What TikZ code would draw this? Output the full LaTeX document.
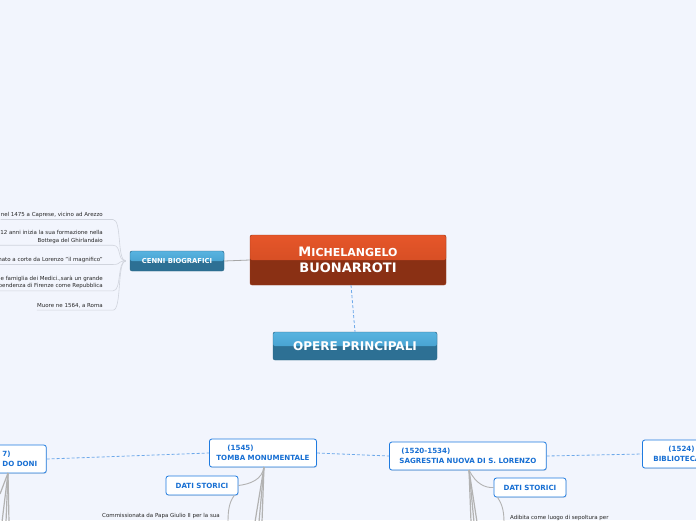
\documentclass[tikz,border=0pt]{standalone}
\usepackage{fontspec}
\setmainfont{DejaVu Sans}
\usetikzlibrary{shadows}
\definecolor{bgblue}{HTML}{F2F5FD}
\definecolor{maintop}{HTML}{E6562A}
\definecolor{mainmid}{HTML}{C9481F}
\definecolor{mainlow}{HTML}{8A3014}
\definecolor{mainedge}{HTML}{9C3A1A}
\definecolor{bluetop}{HTML}{58B3E0}
\definecolor{bluemid}{HTML}{3A95C4}
\definecolor{bluelow}{HTML}{2D7094}
\definecolor{blueedge}{HTML}{2A6584}
\definecolor{nodeblue}{HTML}{1F7BE0}
\definecolor{textblue}{HTML}{176FD3}
\definecolor{dashblue}{HTML}{6EA9EA}
\definecolor{branchgray}{HTML}{B2B2B2}
\definecolor{leafgray}{HTML}{D0D4DD}
\tikzset{
  mainbox/.style={draw=mainedge, fill=mainlow, rounded corners=2pt,
    minimum width=196pt, minimum height=50pt, inner sep=0pt, text=white, align=center,
    font=\bfseries\fontsize{13}{16}\selectfont,
    path picture={\shade[top color=maintop, bottom color=mainmid]
      (path picture bounding box.north west) rectangle (path picture bounding box.east);}},
  bluebox/.style={draw=blueedge, fill=bluelow, rounded corners=2pt, inner sep=0pt, text=white,
    path picture={\shade[top color=bluetop, bottom color=bluemid]
      (path picture bounding box.north west) rectangle (path picture bounding box.east);}},
  whitebox/.style={draw=nodeblue, fill=white, line width=0.8pt, rounded corners=2.5pt,
    text=textblue, align=left, inner xsep=9pt, minimum height=28pt,
    font=\bfseries\fontsize{7.1}{9.5}\selectfont,
    drop shadow={opacity=0.18, shadow xshift=0.6pt, shadow yshift=-0.9pt}},
  datibox/.style={whitebox, align=center, inner xsep=0pt, minimum width=72pt, minimum height=19pt},
  leaf/.style={inner xsep=0pt, inner ysep=1.6pt, text=black!85, font=\fontsize{5.5}{7.6}\selectfont},
  leafline/.style={draw=leafgray, line width=0.6pt},
  branch/.style={draw=branchgray, line width=1.2pt},
  link/.style={draw=dashblue, line width=0.8pt, dash pattern=on 3pt off 2pt}
}
\begin{document}
\begin{tikzpicture}[x=1pt, y=-1pt]
  \fill[bgblue] (0,0) rectangle (696,520);
  \useasboundingbox (0,0) rectangle (696,520);
  \clip (0,0) rectangle (696,520);

  %%%%% CENTRE %%%%%
  \node[mainbox] (michel) at (348,260) {M{\fontsize{11}{16}\selectfont ICHELANGELO}\\BUONARROTI};
  \node[bluebox, minimum width=164pt, minimum height=28pt, font=\bfseries\fontsize{12}{14}\selectfont]
    (opere) at (355,346) {OPERE PRINCIPALI};
  \draw[link] (michel.south) ++(3,0) coordinate (msouth) -- (opere.north);

  %%%%% CENNI BIOGRAFICI %%%%%
  \node[bluebox, minimum width=94pt, minimum height=20pt, font=\bfseries\fontsize{6.8}{8}\selectfont]
    (cenni) at (177,261) {CENNI BIOGRAFICI};
  \draw[branch, line width=0.8pt, draw=black!35] (michel.west) -- (cenni.east);

  \node[leaf, anchor=east] (c1) at (103,215) {nel 1475 a Caprese, vicino ad Arezzo};
  \node[leaf, anchor=east, align=right] (c2) at (103,237) {12 anni inizia la sua formazione nella\\Bottega del Ghirlandaio};
  \node[leaf, anchor=east] (c3) at (103,260) {nato a corte da Lorenzo "il magnifico"};
  \node[leaf, anchor=east, align=right] (c4) at (103,282.5) {e famiglia dei Medici.,sarà un grande\\pendenza di Firenze come Repubblica};
  \node[leaf, anchor=east] (c5) at (103,306) {Muore ne 1564, a Roma};

  \foreach \c in {c1,c2,c3,c4,c5}
    \draw[leafline] ([xshift=-4pt]cenni.west) .. controls +(-9,0) and +(9,0) .. ([xshift=10pt]\c.south east) -- (\c.south west);

  %%%%% OPERE %%%%%
  \node[whitebox, anchor=west] (tondo) at (-7,459) {7)\\DO DONI};
  \node[whitebox, anchor=west, inner xsep=7pt] (tomba) at (209,453) {\hspace*{11pt}(1545)\\TOMBA MONUMENTALE};
  \node[whitebox, anchor=west, inner xsep=10pt] (sagrestia) at (389,456) {\hspace*{2pt}(1520-1534)\\SAGRESTIA NUOVA DI S. LORENZO};
  \node[whitebox, anchor=west, inner xsep=11pt] (biblio) at (642,454) {\hspace*{15pt}(1524)\\BIBLIOTECA};

  \draw[link] (tondo.east) -- (tomba.west);
  \draw[link] (tomba.east) -- (sagrestia.west);
  \draw[link] (sagrestia.east) -- (biblio.west);

  \node[datibox] (dati1) at (202,485.5) {DATI STORICI};
  \node[datibox] (dati2) at (530,487.5) {DATI STORICI};

  \node[leaf, anchor=east] (giulio) at (220,516) {Commissionata da Papa Giulio II per la sua};
  \node[leaf, anchor=west] (sepolt) at (510,518) {Adibita come luogo di sepoltura per};

  % rami verso il basso
  \coordinate (tondoroot) at (8,473);
  \coordinate (tombaroot) at (264,467);
  \coordinate (sagrroot) at (469,470);
  \foreach \x/\y in {0/494, 2/522, 6/522, 9/522}
    \draw[branch] (tondoroot) -- (\x,\y);
  \foreach \x in {255,259,262}
    \draw[branch] (tombaroot) -- (\x,522);
  \foreach \x in {471,474,477}
    \draw[branch] (sagrroot) -- (\x,522);

  \draw[branch, line width=0.9pt] (tombaroot) .. controls (262,480) and (250,484) .. (dati1.east);
  \draw[branch, line width=0.9pt] (sagrroot) .. controls (476,484) and (485,488) .. (dati2.west);
  \draw[branch, line width=0.9pt] ([xshift=-4pt]dati1.south east) .. controls +(-5,6) and +(0,-12) .. (228,522);
  \draw[branch, line width=0.9pt] ([xshift=4pt]dati2.south west) .. controls +(4,6) and +(0,-12) .. (504,522);
\end{tikzpicture}
\end{document}
